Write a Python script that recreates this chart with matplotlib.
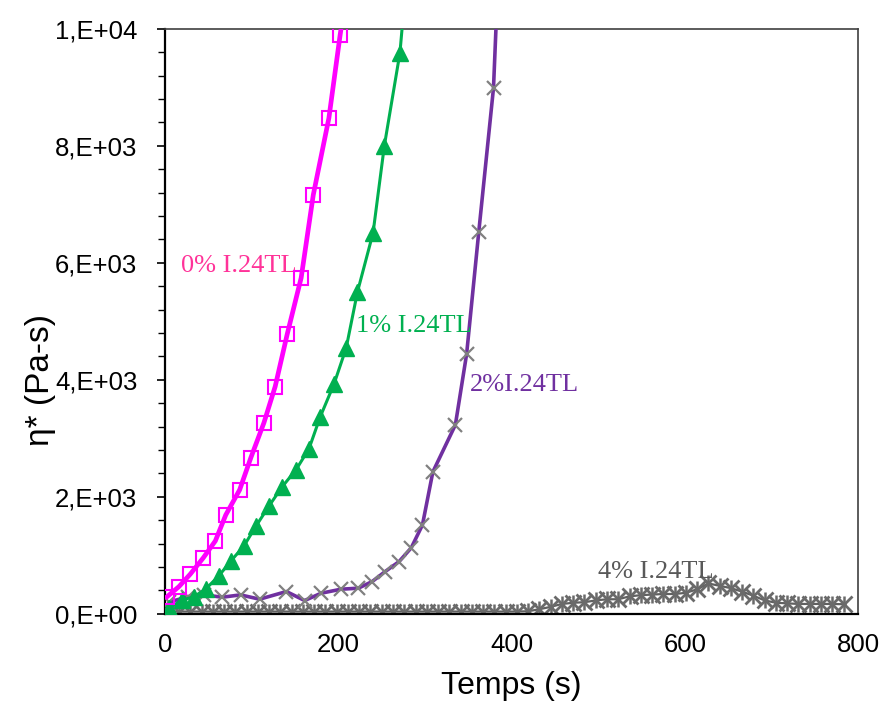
import matplotlib
matplotlib.use("Agg")
import matplotlib.pyplot as plt
from matplotlib.ticker import FixedLocator, MultipleLocator

# 0% I.24TL
t0 = [2, 16, 29, 44, 58, 70, 86, 99, 114, 127, 141, 157, 171, 189, 202, 216]
v0 = [290, 467, 679, 957, 1248, 1692, 2120, 2672, 3265, 3885, 4786, 5743, 7162, 8474, 9897, 11300]

# 1% I.24TL
t1 = [5, 20, 33, 47, 62, 76, 91, 105, 120, 135, 151, 166, 179, 195, 209, 222, 240, 253, 271, 286]
v1 = [103, 239, 291, 427, 650, 906, 1162, 1504, 1846, 2171, 2462, 2821, 3368, 3932, 4547, 5504,
      6513, 8000, 9590, 12100]

# 2% I.24TL
t2 = [5, 26, 45, 66, 87, 109, 140, 161, 180, 203, 223, 239, 254, 270, 284, 297, 309, 335, 348,
      362, 379, 393]
v2 = [200, 296, 325, 285, 325, 251, 382, 228, 353, 422, 439, 553, 724, 894, 1128, 1521, 2427,
      3231, 4444, 6530, 8991, 14000]

# 4% I.24TL
t4 = [3, 16, 29, 42, 55, 68, 81, 94, 107, 120, 133, 146, 159, 172, 185, 198, 211, 224, 237, 250,
      263, 276, 289, 302, 315, 328, 341, 354, 367, 380, 393, 406, 419, 432, 445, 458, 471, 484,
      497, 510, 523, 536, 549, 562, 575, 588, 601, 614, 627, 640, 653, 666, 679, 692, 705, 718,
      731, 744, 757, 770, 783]
v4 = [40, 40, 40, 40, 40, 40, 40, 40, 40, 40, 40, 40, 40, 40, 40, 40, 40, 40, 40, 40,
      40, 40, 40, 40, 40, 40, 40, 40, 40, 40, 40, 40, 45, 80, 120, 170, 190, 200,
      230, 250, 250, 300, 320, 330, 340, 340, 360, 420, 520, 480, 440, 380, 310, 230, 190, 180,
      170, 170, 170, 170, 165]

y_ticks = [0, 2000, 4000, 6000, 8000, 10000]
y_tick_labels = ["0,E+00", "2,E+03", "4,E+03", "6,E+03", "8,E+03", "1,E+04"]
x_ticks = [0, 200, 400, 600, 800]

fig = plt.figure(figsize=(8.83, 7.04), dpi=100)
ax = fig.add_axes([0.187, 0.128, 0.785, 0.831])

# 4% series: Excel star marker = x with a vertical bar
ax.plot(t4, v4, color="#606060", linewidth=1.6, marker="x", markersize=11,
        markeredgewidth=2.0, markeredgecolor="#6a6a6a", zorder=2)
ax.plot(t4, v4, linestyle="none", marker="|", markersize=11,
        markeredgewidth=1.8, markeredgecolor="#6a6a6a", zorder=2)
ax.plot(t2, v2, color="#7030A0", linewidth=2.6, marker="x", markersize=10.5,
        markeredgewidth=1.6, markeredgecolor="#808080", zorder=3)
ax.plot(t1, v1, color="#00B050", linewidth=2.2, marker="^", markersize=11,
        markerfacecolor="#00B050", markeredgecolor="#00B050", zorder=4)
ax.plot(t0, v0, color="#FF00FF", linewidth=3.4, marker="s", markersize=10.5,
        markerfacecolor="none", markeredgecolor="#FF00FF", markeredgewidth=1.5, zorder=5)

serif = ["Liberation Serif", "DejaVu Serif"]
ax.text(85, 5950, "0% I.24TL", color="#FF3399", fontsize=19, family=serif, ha="center", va="center")
ax.text(287, 4920, "1% I.24TL", color="#00B050", fontsize=19, family=serif, ha="center", va="center")
ax.text(415, 3910, "2%I.24TL", color="#7030A0", fontsize=19, family=serif, ha="center", va="center")
ax.text(566, 720, "4% I.24TL", color="#595959", fontsize=19, family=serif, ha="center", va="center")

ax.set_xlim(0, 800)
ax.set_ylim(0, 10000)
ax.xaxis.set_major_locator(FixedLocator(x_ticks))
ax.yaxis.set_major_locator(FixedLocator(y_ticks))
ax.yaxis.set_minor_locator(MultipleLocator(400))
ax.set_yticklabels(y_tick_labels)

sans = ["Liberation Sans", "DejaVu Sans"]
for lab in ax.get_xticklabels() + ax.get_yticklabels():
    lab.set_family(sans)
    lab.set_fontsize(18.5)
ax.tick_params(axis="x", length=0, pad=14)
ax.tick_params(axis="y", which="major", direction="out", length=6, width=1.2, pad=14)
ax.tick_params(axis="y", which="minor", direction="out", length=5, width=1.0)

ax.set_xlabel("Temps (s)", fontsize=23, family=sans, labelpad=10)
ax.set_ylabel("η* (Pa-s)", fontsize=24, family=sans)
ax.yaxis.set_label_coords(-0.158, 0.40)

for side in ["left", "bottom"]:
    ax.spines[side].set_linewidth(1.6)
    ax.spines[side].set_color("black")
for side in ["top", "right"]:
    ax.spines[side].set_linewidth(1.2)
    ax.spines[side].set_color("#404040")

fig.savefig("out.png", dpi=100)
